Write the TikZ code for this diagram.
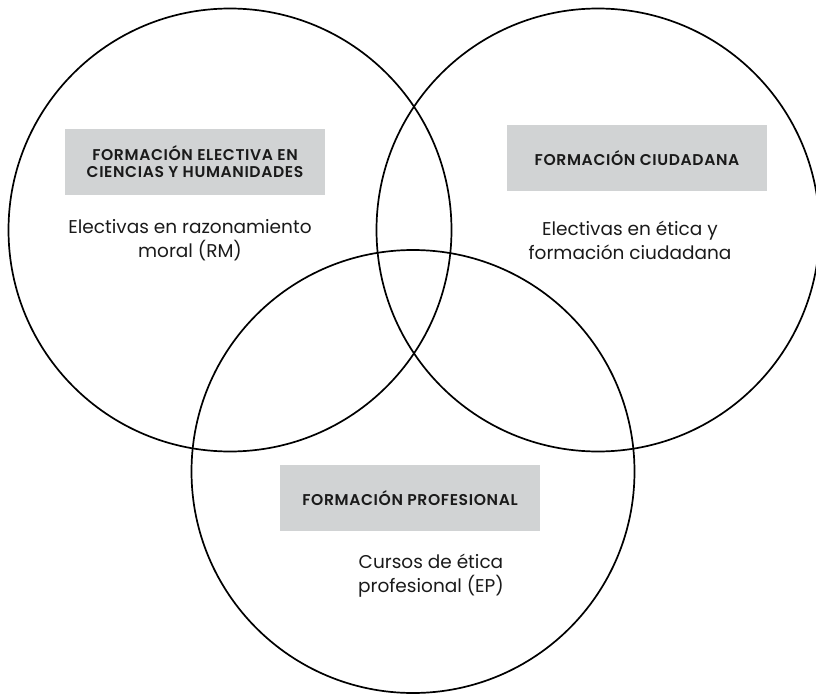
\documentclass[tikz,border=0pt]{standalone}
\usepackage{fontspec}
\setmainfont{Poppins}
\newfontfamily\hdrfont[LetterSpace=4]{Poppins SemiBold}
\definecolor{boxgray}{HTML}{D1D3D4}
\definecolor{ink}{HTML}{1A1A1A}
\tikzset{
  ring/.style={circle, draw=black, line width=1.7pt, minimum size=443pt, inner sep=0pt},
  hdrbox/.style={fill=boxgray, minimum width=260pt, minimum height=66pt, inner sep=0pt,
     align=center, text=ink, font=\hdrfont\fontsize{15.6pt}{17pt}\selectfont},
  bodytxt/.style={align=center, text=ink, font=\fontsize{18.5pt}{24pt}\selectfont, inner sep=0pt}
}
\begin{document}
\begin{tikzpicture}[x=1pt,y=-1pt]
\useasboundingbox (0,0) rectangle (816,693);
\node[ring] (cL) at (230,230) {};
\node[ring] (cR) at (598,230) {};
\node[ring] (cB) at (413,471.5) {};
\node[hdrbox] (hL) at (195,162) {FORMACIÓN ELECTIVA EN\\CIENCIAS Y HUMANIDADES};
\node[hdrbox] (hR) at (637,158) {FORMACIÓN CIUDADANA};
\node[hdrbox] (hB) at (410,498) {FORMACIÓN PROFESIONAL};
\node[bodytxt] (tL) at (190,240) {Electivas en razonamiento\\moral (RM)};
\node[bodytxt] (tR) at (630,240) {Electivas en ética y\\formación ciudadana};
\node[bodytxt] (tB) at (431,576) {Cursos de ética\\profesional (EP)};
\end{tikzpicture}
\end{document}
